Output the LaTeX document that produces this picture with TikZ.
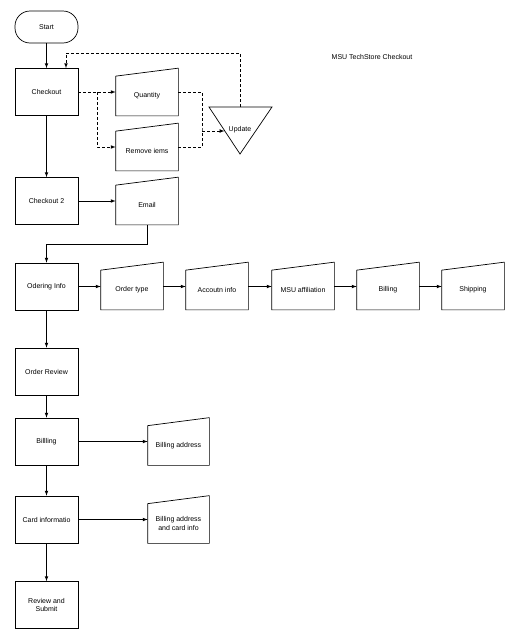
\documentclass[tikz,border=0pt]{standalone}
\usepackage{fontspec}
\setmainfont{Liberation Sans}

\begin{document}
\begin{tikzpicture}[x=1pt,y=-1pt,font=\fontsize{7}{8.5}\selectfont,line width=0.7pt,
		proc/.style={draw,rectangle,minimum width=63pt,minimum height=47pt,inner sep=1pt,align=center},
		term/.style={draw,rectangle,rounded corners=15pt,minimum width=63pt,minimum height=32pt},
		minput/.style={rectangle,minimum width=62pt,minimum height=39pt,inner sep=1pt,align=center},
		flow/.style={-latex},
		dflow/.style={dashed,dash pattern=on 3pt off 2pt}]
		\useasboundingbox (0,0) rectangle (519,640);
		\coordinate (c_start) at (46.5,27);
		\coordinate (c_chk) at (46.5,92);
		\coordinate (c_chk2) at (46.5,201);
		\coordinate (c_ord) at (46.5,286.5);
		\coordinate (c_rev) at (46.5,371.5);
		\coordinate (c_bill) at (46.5,441.5);
		\coordinate (c_card) at (46.5,519.5);
		\coordinate (c_sub) at (46.5,605);
		\coordinate (split) at (97,92);
		\coordinate (merge) at (202,131);
		\coordinate (upd_tl) at (209,107);
		\coordinate (upd_tr) at (272,107);
		\coordinate (upd_b) at (240,154);
		\coordinate (upd_in) at (224.5,131);
		\coordinate (upd_top) at (240,107);
		\node[term] (start) at (c_start) {Start};
		\node[proc] (chk) at (c_chk) {Checkout};
		\node[proc] (chk2) at (c_chk2) {Checkout 2};
		\node[proc] (ord) at (c_ord) {Odering Info};
		\node[proc] (rev) at (c_rev) {Order Review};
		\node[proc] (bill) at (c_bill) {Billling};
		\node[proc] (card) at (c_card) {Card informatio};
		\node[proc] (sub) at (c_sub) {Review and\\Submit};
		\node[minput] (qty) at (147,96) {Quantity};
		\node[minput] (rem) at (147,151) {Remove iems};
		\node[minput] (email) at (147,205) {Email};
		\node[minput] (otype) at (132,290) {Order type};
		\node[minput] (acct) at (217,290) {Accoutn info};
		\node[minput] (msu) at (303,290) {MSU affiliation};
		\node[minput] (obill) at (388,290) {Billing};
		\node[minput] (ship) at (473,290) {Shipping};
		\node[minput,minimum width=61pt] (baddr) at (178.5,445.5) {Billing address};
		\node[minput,minimum width=61pt] (cinfo) at (178.5,523.5) {Billing address\\and card info};
		\node (upd) at (240,130) {Update};
		\node (title) at (372,57) {MSU TechStore Checkout};

		% manual input outlines
		\foreach \n in {qty,rem,email,otype,acct,msu,obill,ship,baddr,cinfo}
			\draw (\n.south west) -- (\n.north west) -- ([yshift=8pt]\n.north east) -- (\n.south east) -- cycle;
		\draw (upd_tl) -- (upd_tr) -- (upd_b) -- cycle;

		% main flow
		\draw[flow] (start) -- (chk);
		\draw[flow] (chk) -- (chk2);
		\draw[flow] (chk2.east) -- (chk2.east -| email.west);
		\draw[flow] (email.south) -- ++(0,19) -| (ord.north);
		\foreach \a/\b in {ord/otype,otype/acct,acct/msu,msu/obill,obill/ship}
			\draw[flow] (\a.east |- ord.east) -- (\b.west |- ord.east);
		\draw[flow] (ord) -- (rev);
		\draw[flow] (rev) -- (bill);
		\draw[flow] (bill) -- (card);
		\draw[flow] (card) -- (sub);
		\draw[flow] (bill.east) -- (bill.east -| baddr.west);
		\draw[flow] (card.east) -- (card.east -| cinfo.west);

		% update loop
		\draw[dflow,-latex] (chk.east) -- (chk.east -| qty.west);
		\draw[dflow,-latex] (split) |- ([yshift=4pt]rem.west);
		\draw[dflow] ([yshift=4pt]qty.east) -| (merge) |- ([yshift=4pt]rem.east);
		\draw[dflow,-latex] (merge) -- (upd_in);
		\draw[dflow,-latex] (upd_top) -- ++(0,-54) -| ([xshift=19.5pt]chk.north);
	\end{tikzpicture}
\end{document}
